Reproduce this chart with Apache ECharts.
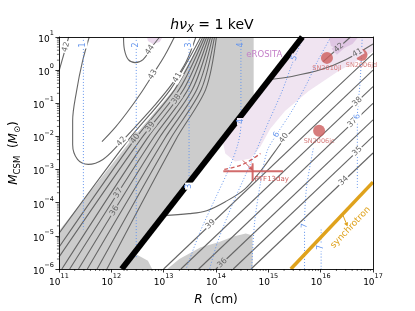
<!DOCTYPE html>
<html>
<head>
<meta charset="utf-8">
<script src="https://cdn.jsdelivr.net/npm/echarts@6.0.0/dist/echarts.min.js"></script>
<style>
html,body{margin:0;padding:0;background:#ffffff;}
#chart{width:415px;height:311px;}
</style>
</head>
<body>
<div id="chart"></div>
<script>
// ---- data: every point is [log10 R (cm), log10 M_CSM (M_sun)] ----
const xTickExponents = [11, 12, 13, 14, 15, 16, 17];
const yTickExponents = [-6, -5, -4, -3, -2, -1, 0, 1];
const minorMantissas = [2, 3, 4, 5, 6, 7, 8, 9];

// shaded regions
const grayRegion = [[11.0,-6.0],[11.0,-4.85],[12.40,-2.07],[13.20,-0.58],[13.76,1.0],[14.72,1.0],[14.72,-0.89],[12.2,-6.0]];
const grayBlob = [[13.07,-6],[13.30,-5.70],[13.71,-5.34],[14.05,-5.19],[14.33,-5.02],[14.57,-4.93],[14.70,-4.99],[14.70,-6]];
const grayBlobSmall = [[12.25,-6],[12.37,-5.64],[12.50,-5.58],[12.70,-5.75],[12.78,-6]];
const eRositaRegion = [[15.65,1.0],[17.0,1.0],[17.0,0.553],[16.327,-0.043],[15.766,-0.638],[15.318,-1.234],[15.037,-1.770],[14.850,-2.306],[14.664,-2.664],[14.364,-2.753],[14.178,-2.515],[14.123,-2.098]];
const eRositaCore = [[16.159,1.0],[16.720,1.0],[16.607,0.791],[16.383,0.613],[16.196,0.732]];
const eRositaSpot = [[12.682,1.0],[12.981,1.0],[12.925,0.851],[12.794,0.791],[12.701,0.881]];

// boundary lines
const blackLine = [[12.2,-6.0],[15.65,1.0]];
const synchrotron = [[15.43,-6.0],[17.0,-3.38]];
const synchArrow = [[16.421,-4.36],[16.514,-4.72]];

// luminosity contours (log L), right family
const c34 = [[14.67,-6],[17,-2.5]];
const c35 = [[14.33,-6],[17,-2.0]];
const c36 = [[14.0,-6],[17,-1.5]];
const c37 = [[13.67,-6],[17,-1.0]];
const c38 = [[13.33,-6],[17,-0.5]];
const c39 = [[13.0,-6],[17,0.0]];
const c40 = [[12.99,-4.39],[13.486,-4.33],[13.822,-4.24],[14.178,-3.97],[14.551,-3.59],[14.850,-3.05],[15.112,-2.49],[15.374,-1.95],[17.0,0.5]];
const c41 = [[15.02,-0.28],[15.449,-0.19],[16.009,0.017],[16.477,0.315],[17.0,0.79]];
const c42 = [[16.047,0.255],[16.570,1.0]];
// left family
const c42a = [[11.0,-0.04],[11.187,1.0]];
const c42loop = [[11.579,1.0],[11.449,0.255],[11.336,-0.638],[11.262,-1.532],[11.262,-2.247],[11.355,-2.694],[11.561,-2.843],[11.841,-2.694],[12.140,-2.247],[12.458,-1.711],[12.832,-1.055],[13.168,-0.400],[13.430,0.255],[13.617,1.0]];
const c43 = [[11.822,-2.158],[12.084,-1.711],[12.308,-1.264],[12.551,-0.728],[12.794,-0.132],[13.019,0.434],[13.206,1.0]];
const c44 = [[12.234,1.0],[12.252,0.613],[12.327,0.315],[12.458,0.226],[12.607,0.315],[12.776,0.702],[12.925,1.0]];
const s0 = [[11.0,-4.928],[12.346,-2.068],[13.131,-0.579],[13.710,1.0]];
const s1 = [[11.0,-5.345],[12.458,-2.068],[13.215,-0.579],[13.748,1.0]];
const s2 = [[11.0,-5.643],[12.570,-2.068],[13.299,-0.579],[13.785,1.0]];
const s3 = [[11.056,-6.0],[12.682,-2.068],[13.383,-0.579],[13.822,1.0]];
const s4 = [[11.206,-6.0],[12.794,-2.068],[13.467,-0.579],[13.860,1.0]];
const s5 = [[11.374,-6.0],[12.907,-2.068],[13.551,-0.579],[13.897,1.0]];
const s6 = [[11.542,-6.0],[13.019,-2.068],[13.636,-0.579],[13.935,1.0]];
const s7 = [[11.729,-6.0],[13.131,-2.068],[13.720,-0.579],[13.972,1.0]];
const s8 = [[11.916,-6.0],[13.243,-2.068],[13.804,-0.579],[14.009,1.0]];

// dotted (blue) contours
const b1 = [[11.467,1.0],[11.467,-4.809]];
const b2 = [[12.477,1.0],[12.477,-5.702]];
const b3 = [[13.486,1.0],[13.486,-3.558]];
const b4 = [[14.477,1.0],[14.477,-1.621],[14.421,-2.217],[14.252,-2.962],[13.991,-3.856],[13.692,-4.898],[13.430,-6.0]];
const b5 = [[15.673,1.0],[15.486,0.315],[15.262,-0.638],[14.963,-1.711],[14.664,-2.813],[14.327,-4.004],[14.028,-5.196],[13.879,-6.0]];
const b6 = [[16.196,1.0],[15.935,0.255],[15.729,-0.430],[15.449,-1.234],[15.168,-1.919],[14.981,-2.426],[14.850,-3.409],[14.738,-4.600],[14.682,-6.0]];
const b7 = [[16.794,1.0],[16.757,-0.281],[16.701,-1.473],[16.701,-3.617]];
const b8 = [[15.860,-2.366],[15.729,-3.558],[15.692,-4.749],[15.692,-6.0]];
const b9 = [[16.009,-4.809],[16.009,-6.0]];

// supernovae
const snNames = ['SN2010jl', 'SN2006jd', 'SN2006jc'];
const snPoints = [[16.12,0.37],[16.78,0.46],[15.97,-1.83]];
const ptfName = 'PTF13day';
const ptfPoint = [14.70,-3.05];
const ptfRRange = [14.14,15.28];
const ptfMRange = [-3.35,-2.81];
const ptfDashed = [[14.159,-2.992],[14.514,-2.843],[14.850,-2.515]];
const ptfArrow = [[14.514,-2.724],[14.70,-3.02]];

// contour labels
const contourLabels = [
  {text:'34', at:[16.439,-3.34], on:c34},
  {text:'35', at:[16.701,-2.45], on:c35},
  {text:'36', at:[14.12,-5.82], on:c36},
  {text:'37', at:[16.607,-1.59], on:c37},
  {text:'38', at:[16.701,-0.95], on:c38},
  {text:'39', at:[13.897,-4.65], on:c39},
  {text:'40', at:[15.299,-2.05], on:c40},
  {text:'41', at:[16.701,0.52], on:c41},
  {text:'42', at:[16.346,0.68], on:c42},
  {text:'42', at:[11.133,0.70], on:c42a},
  {text:'42', at:[12.196,-2.158], on:c42loop},
  {text:'43', at:[12.794,-0.132], on:c43},
  {text:'44', at:[12.738,0.613], on:c44},
  {text:'41', at:[13.262,-0.221], on:s0},
  {text:'40', at:[12.458,-2.068], on:s1},
  {text:'39', at:[12.746,-1.711], on:s2},
  {text:'38', at:[13.243,-0.877], on:s3},
  {text:'37', at:[12.133,-3.707], on:s4},
  {text:'36', at:[12.060,-4.243], on:s5}
];
const blueLabels = [
  {text:'1', at:[11.467,0.76], on:b1},
  {text:'2', at:[12.477,0.76], on:b2},
  {text:'3', at:[13.486,0.76], on:b3},
  {text:'4', at:[14.477,0.76], on:b4},
  {text:'4', at:[14.477,-1.55], on:b4},
  {text:'3', at:[13.486,-3.50], on:b3},
  {text:'5', at:[15.498,0.36], on:b5},
  {text:'6', at:[15.157,-1.95], on:b6},
  {text:'6', at:[16.701,-1.40], on:b7},
  {text:'7', at:[15.692,-4.70], on:b8},
  {text:'7', at:[16.009,-5.35], on:b9}
];
const eRositaText = {text:'eROSITA', at:[14.925,0.464]};
const synchText = {text:'synchrotron', at:[16.570,-4.749], on:synchrotron};

// ---- styles ----
const FONT = '"DejaVu Sans"';
const GRAY_FILL = '#cccccc';
const CONTOUR = '#666666';
const BLUE = '#6495ed';
const RED = '#cd5c5c';
const GOLD = '#dfa21c';
const fills = [
  {pts: grayRegion, color: GRAY_FILL},
  {pts: grayBlob, color: GRAY_FILL},
  {pts: grayBlobSmall, color: GRAY_FILL},
  {pts: eRositaRegion, color: '#f0e4f1'},
  {pts: eRositaCore, color: '#dfc6e3'},
  {pts: eRositaSpot, color: '#ead8ec'}
];

const P10 = v => Math.pow(10, v);
const V = p => [P10(p[0]), P10(p[1])];

function pip(pt, poly) {
  let inside = false;
  for (let i = 0, j = poly.length - 1; i < poly.length; j = i++) {
    const xi = poly[i][0], yi = poly[i][1], xj = poly[j][0], yj = poly[j][1];
    if (((yi > pt[1]) !== (yj > pt[1])) && (pt[0] < (xj - xi) * (pt[1] - yi) / (yj - yi) + xi)) inside = !inside;
  }
  return inside;
}
function bgAt(p) {
  for (let i = fills.length - 1; i >= 0; i--) if (pip(p, fills[i].pts)) return fills[i].color;
  return '#ffffff';
}
function angleOn(line, c, api) {
  let best = null, bd = Infinity;
  for (let i = 0; i < line.length - 1; i++) {
    const a = api.coord(V(line[i])), b = api.coord(V(line[i + 1]));
    const dx = b[0] - a[0], dy = b[1] - a[1];
    const L2 = dx * dx + dy * dy || 1;
    let t = ((c[0] - a[0]) * dx + (c[1] - a[1]) * dy) / L2;
    t = Math.max(0, Math.min(1, t));
    const ex = a[0] + t * dx - c[0], ey = a[1] + t * dy - c[1];
    const d = ex * ex + ey * ey;
    if (d < bd) { bd = d; best = [dx, dy]; }
  }
  let ang = Math.atan2(-best[1], best[0]);
  if (ang > Math.PI / 2 + 1e-6) ang -= Math.PI;
  if (ang < -Math.PI / 2 + 1e-6) ang += Math.PI;
  return ang;
}

const tickFmt = v => {
  const e = Math.round(Math.log10(v));
  return '{b|10}{s|' + String(e).replace('-', '\u2212') + '}';
};
const tickRich = {
  b: {fontSize: 9, fontFamily: 'DejaVu Sans', color: '#000', lineHeight: 14, verticalAlign: 'bottom'},
  s: {fontSize: 6.5, fontFamily: 'DejaVu Sans', color: '#000', lineHeight: 8, verticalAlign: 'top'}
};

function lineSeries(pts, color, width, type, z, smooth) {
  return {
    type: 'line', data: pts.map(V), showSymbol: false, symbol: 'none', silent: true,
    animation: false, clip: true, z: z, smooth: smooth || false,
    lineStyle: {color: color, width: width, type: type, cap: 'butt'}
  };
}

const series = [];
// fills
series.push({
  type: 'custom', z: 1, silent: true, animation: false, clip: true,
  data: fills.map((f, i) => [P10(14), P10(-2), i]),
  renderItem: (params, api) => {
    const f = fills[params.dataIndex];
    return {type: 'polygon', shape: {points: f.pts.map(p => api.coord(V(p)))}, style: {fill: f.color}};
  }
});
// contours
[c34, c35, c36, c37, c38, c39, c42, c42a].forEach(l => series.push(lineSeries(l, CONTOUR, 1.1, 'solid', 2)));
[c40, c41, c42loop, c43, c44].forEach(l => series.push(lineSeries(l, CONTOUR, 1.1, 'solid', 2, 0.35)));
[s0, s1, s2, s3, s4, s5, s6, s7, s8].forEach(l => series.push(lineSeries(l, CONTOUR, 1.1, 'solid', 2, 0.3)));
// dotted blue
[b1, b2, b3, b4, b5, b6, b7, b8, b9].forEach(l => series.push(lineSeries(l, BLUE, 1, [1, 2], 3, 0.3)));
// boundaries
series.push(lineSeries(blackLine, '#000000', 6, 'solid', 4));
series.push(lineSeries(synchrotron, GOLD, 3.5, 'solid', 4));
series.push(lineSeries(ptfDashed, RED, 1.3, [4, 2.5], 5, 0.4));
// supernovae
series.push({
  type: 'scatter', z: 6, silent: true, animation: false,
  data: snPoints.map((p, i) => ({name: snNames[i], value: V(p)})),
  symbol: 'circle', symbolSize: 12, itemStyle: {color: RED},
  label: {show: true, position: 'bottom', distance: 1, formatter: '{b}', fontSize: 6.5, color: RED, fontFamily: 'DejaVu Sans'}
});
// PTF13day error bars, arrows
function arrowGroup(a, b, color, width) {
  const dx = b[0] - a[0], dy = b[1] - a[1];
  const L = Math.sqrt(dx * dx + dy * dy) || 1;
  const ux = dx / L, uy = dy / L, h = 4, w = 2.2;
  const base = [b[0] - ux * h, b[1] - uy * h];
  return [
    {type: 'line', shape: {x1: a[0], y1: a[1], x2: base[0], y2: base[1]}, style: {stroke: color, lineWidth: width}},
    {type: 'polygon', shape: {points: [b, [base[0] - uy * w, base[1] + ux * w], [base[0] + uy * w, base[1] - ux * w]]}, style: {fill: color}}
  ];
}
series.push({
  type: 'custom', z: 6, silent: true, animation: false,
  data: [V(ptfPoint)],
  renderItem: (params, api) => {
    const c = api.coord(V(ptfPoint));
    const xl = api.coord(V([ptfRRange[0], ptfPoint[1]])), xh = api.coord(V([ptfRRange[1], ptfPoint[1]]));
    const yl = api.coord(V([ptfPoint[0], ptfMRange[0]])), yh = api.coord(V([ptfPoint[0], ptfMRange[1]]));
    const col = 'rgba(205,92,92,0.9)';
    const kids = [
      {type: 'line', shape: {x1: xl[0], y1: xl[1], x2: xh[0], y2: xh[1]}, style: {stroke: col, lineWidth: 2}},
      {type: 'line', shape: {x1: yl[0], y1: yl[1], x2: yh[0], y2: yh[1]}, style: {stroke: col, lineWidth: 2}},
      {type: 'text', x: c[0] + 2, y: c[1] + 8, style: {text: ptfName, fill: RED, font: '7px ' + FONT, align: 'left', verticalAlign: 'middle'}}
    ];
    const pa = api.coord(V(ptfArrow[0])), pb = api.coord(V(ptfArrow[1]));
    const sa = api.coord(V(synchArrow[0])), sb = api.coord(V(synchArrow[1]));
    return {type: 'group', children: kids.concat(arrowGroup(pa, pb, RED, 1)).concat(arrowGroup(sa, sb, GOLD, 1))};
  }
});
// labels
const allLabels = contourLabels.map(l => Object.assign({color: CONTOUR, size: 8, bg: true}, l))
  .concat(blueLabels.map(l => Object.assign({color: BLUE, size: 8, bg: true}, l)))
  .concat([Object.assign({color: '#c47fc8', size: 8.5, bg: false}, eRositaText),
           Object.assign({color: GOLD, size: 9, bg: false}, synchText)]);
series.push({
  type: 'custom', z: 8, silent: true, animation: false,
  data: allLabels.map(l => V(l.at)),
  renderItem: (params, api) => {
    const l = allLabels[params.dataIndex];
    const c = api.coord(V(l.at));
    const rot = l.on ? angleOn(l.on, c, api) : 0;
    const st = {text: l.text, fill: l.color, font: l.size + 'px ' + FONT, align: 'center', verticalAlign: 'middle'};
    if (l.bg) { st.backgroundColor = bgAt(l.at); st.padding = [0, 1]; }
    return {type: 'text', x: c[0], y: c[1], rotation: rot, style: st};
  }
});
// minor ticks
const xMinor = [], yMinor = [];
xTickExponents.slice(0, -1).forEach(e => minorMantissas.forEach(m => xMinor.push(m * P10(e))));
yTickExponents.slice(0, -1).forEach(e => minorMantissas.forEach(m => yMinor.push(m * P10(e))));
series.push({
  type: 'custom', z: 9, silent: true, animation: false,
  data: xMinor.map(v => [v, 1e-6]),
  renderItem: (params, api) => {
    const p = api.coord([xMinor[params.dataIndex], 1e-6]);
    return {type: 'line', shape: {x1: p[0], y1: p[1], x2: p[0], y2: p[1] + 2}, style: {stroke: '#000', lineWidth: 0.6}};
  }
});
series.push({
  type: 'custom', z: 9, silent: true, animation: false,
  data: yMinor.map(v => [1e11, v]),
  renderItem: (params, api) => {
    const p = api.coord([1e11, yMinor[params.dataIndex]]);
    return {type: 'line', shape: {x1: p[0], y1: p[1], x2: p[0] - 2, y2: p[1]}, style: {stroke: '#000', lineWidth: 0.6}};
  }
});

const chart = echarts.init(document.getElementById('chart'), null, {renderer: 'canvas'});
chart.setOption({
  animation: false,
  backgroundColor: '#ffffff',
  grid: {left: 52, right: 42, top: 37, bottom: 39, containLabel: false},
  xAxis: [{
    type: 'log', logBase: 10, min: P10(xTickExponents[0]), max: P10(xTickExponents[xTickExponents.length - 1]), splitNumber: 6,
    position: 'bottom', z: 10,
    axisLine: {show: true, onZero: false, lineStyle: {color: '#000', width: 0.9}},
    axisTick: {show: true, inside: false, length: 3.5, lineStyle: {color: '#000', width: 0.8}},
    axisLabel: {formatter: tickFmt, rich: tickRich, color: '#000', margin: 4},
    splitLine: {show: false},
    name: '{i|R}{n|  (cm)}', nameLocation: 'middle', nameGap: 25,
    nameTextStyle: {rich: {i: {fontSize: 12, fontStyle: 'italic', fontFamily: 'DejaVu Sans', color: '#000'}, n: {fontSize: 12, fontFamily: 'DejaVu Sans', color: '#000'}}}
  }, {
    type: 'log', logBase: 10, min: P10(11), max: P10(17), position: 'top', z: 10,
    axisLine: {show: true, onZero: false, lineStyle: {color: '#000', width: 0.9}},
    axisTick: {show: false}, axisLabel: {show: false}, splitLine: {show: false}
  }],
  yAxis: [{
    type: 'log', logBase: 10, min: P10(yTickExponents[0]), max: P10(yTickExponents[yTickExponents.length - 1]), splitNumber: 7,
    position: 'left', z: 10,
    axisLine: {show: true, onZero: false, lineStyle: {color: '#000', width: 0.9}},
    axisTick: {show: true, inside: false, length: 3.5, lineStyle: {color: '#000', width: 0.8}},
    axisLabel: {formatter: tickFmt, rich: tickRich, color: '#000', margin: 5},
    splitLine: {show: false},
    name: '{i|M}{s|CSM}{n|  (}{i|M}{s|⊙}{n|)}', nameLocation: 'middle', nameGap: 33, nameRotate: 90,
    nameTextStyle: {rich: {
      i: {fontSize: 12, fontStyle: 'italic', fontFamily: 'DejaVu Sans', color: '#000', lineHeight: 16},
      s: {fontSize: 8.5, fontFamily: 'DejaVu Sans', color: '#000', lineHeight: 8, verticalAlign: 'bottom'},
      n: {fontSize: 12, fontFamily: 'DejaVu Sans', color: '#000', lineHeight: 16}
    }}
  }, {
    type: 'log', logBase: 10, min: P10(-6), max: P10(1), position: 'right', z: 10,
    axisLine: {show: true, onZero: false, lineStyle: {color: '#000', width: 0.9}},
    axisTick: {show: false}, axisLabel: {show: false}, splitLine: {show: false}
  }],
  graphic: [{
    type: 'text', x: 212, y: 25, z: 20,
    style: {
      text: '{i|hν}{s|X}{n| = 1 keV}', align: 'center', verticalAlign: 'middle',
      rich: {
        i: {fontSize: 14, fontStyle: 'italic', fontFamily: 'DejaVu Sans', fill: '#000', lineHeight: 18},
        s: {fontSize: 10, fontStyle: 'italic', fontFamily: 'DejaVu Sans', fill: '#000', lineHeight: 9, verticalAlign: 'bottom'},
        n: {fontSize: 14, fontFamily: 'DejaVu Sans', fill: '#000', lineHeight: 18}
      }
    }
  }],
  series: series
});
</script>
</body>
</html>
